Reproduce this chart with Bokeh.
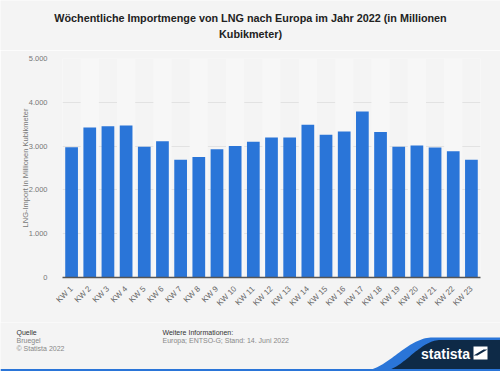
import numpy as np
from bokeh.plotting import figure
from bokeh.layouts import column, row
from bokeh.models import Range1d, FixedTicker, CustomJSTickFormatter, ColumnDataSource
from bokeh.core.properties import value
from bokeh.embed import file_html
from bokeh.resources import INLINE

# ---- data ----
weeks = ["KW 1", "KW 2", "KW 3", "KW 4", "KW 5", "KW 6", "KW 7", "KW 8", "KW 9", "KW 10",
         "KW 11", "KW 12", "KW 13", "KW 14", "KW 15", "KW 16", "KW 17", "KW 18", "KW 19",
         "KW 20", "KW 21", "KW 22", "KW 23"]
imports = [2975, 3425, 3455, 3470, 2985, 3110, 2690, 2750, 2930, 3005,
           3100, 3195, 3195, 3485, 3260, 3335, 3790, 3320, 2985,
           3015, 2970, 2880, 2690]
y_ticks = [0, 1000, 2000, 3000, 4000, 5000]

title_lines = ["Wöchentliche Importmenge von LNG nach Europa im Jahr 2022 (in Millionen",
               "Kubikmeter)"]
y_label = "LNG-Import in Millionen Kubikmeter"

BG = "#f4f4f4"
BAND = "#f7f7f7"
BLUE = "#2a75d8"
NAVY = "#0e2a47"
FONT = "Liberation Sans"
W = 500


def blank(height, y0, y1):
    f = figure(width=W, height=height, x_range=Range1d(0, 500), y_range=Range1d(y1, y0),
               output_backend="svg", toolbar_location=None, min_border=0,
               min_border_left=0, min_border_right=0, min_border_top=0, min_border_bottom=0,
               x_axis_location=None, y_axis_location=None)
    f.grid.visible = False
    f.outline_line_color = None
    f.background_fill_color = BG
    f.border_fill_color = BG
    return f


# ---- title figure (page coordinates) ----
tf = blank(50, 0, 50)
tf.text(x=[250, 250], y=[17, 33], text=title_lines, text_font=value(FONT),
        text_font_style="bold", text_font_size="10.8px", text_color="#222222",
        text_align="center", text_baseline="middle")

# ---- main chart ----
p = figure(width=W, height=272, x_range=weeks, y_range=Range1d(0, 5000),
           output_backend="svg", toolbar_location=None,
           min_border_left=62, min_border_right=20, min_border_top=8, min_border_bottom=45)
p.background_fill_color = BG
p.border_fill_color = BG
p.outline_line_color = None

band_src = ColumnDataSource(dict(x=weeks[1::2], top=[5000] * len(weeks[1::2])))
p.vbar(x="x", top="top", width=1.0, source=band_src, fill_color=BAND, line_color=None)

src = ColumnDataSource(dict(x=weeks, top=imports))
p.vbar(x="x", top="top", width=0.7, source=src, fill_color=BLUE, line_color=None)

p.xgrid.visible = False
p.ygrid.grid_line_color = "#e2e2e2"
p.ygrid.grid_line_width = 1
p.yaxis.ticker = FixedTicker(ticks=y_ticks)
p.yaxis.formatter = CustomJSTickFormatter(
    code="return tick.toFixed(0).replace(/\\B(?=(\\d{3})+(?!\\d))/g, '.');")
p.yaxis.axis_line_color = None
p.yaxis.major_tick_line_color = None
p.yaxis.minor_tick_line_color = None
p.yaxis.major_label_text_font = FONT
p.yaxis.major_label_text_font_size = "7.5px"
p.yaxis.major_label_text_color = "#777777"
p.yaxis.major_label_standoff = 9
p.yaxis.axis_label = y_label
p.yaxis.axis_label_text_font = FONT
p.yaxis.axis_label_text_font_size = "7.5px"
p.yaxis.axis_label_text_font_style = "normal"
p.yaxis.axis_label_text_color = "#777777"
p.yaxis.axis_label_standoff = -4

p.xaxis.axis_line_color = "#555555"
p.xaxis.axis_line_width = 1.5
p.xaxis.major_tick_line_color = None
p.xaxis.minor_tick_line_color = None
p.xaxis.major_label_orientation = np.pi / 4
p.xaxis.major_label_text_font = FONT
p.xaxis.major_label_text_font_size = "8px"
p.xaxis.major_label_text_color = "#666666"
p.xaxis.major_label_standoff = 4

# ---- footer (page coordinates) ----
ff = blank(49, 322, 371)
ff.text(x=[16, 162], y=[332, 332], text=["Quelle", "Weitere Informationen:"],
        text_font=value(FONT), text_font_size="7px", text_color="#333333",
        text_baseline="middle")
ff.text(x=[16, 16, 162], y=[340, 348, 340],
        text=["Bruegel", "© Statista 2022", "Europa; ENTSO-G; Stand: 14. Juni 2022"],
        text_font=value(FONT), text_font_size="7px", text_color="#888888",
        text_baseline="middle")

t = np.linspace(0, 1, 40)


def curve(x0, y0, x1, y1):
    s = 0.5 - 0.5 * np.cos(np.pi * t)
    return list(x0 + (x1 - x0) * t), list(y0 + (y1 - y0) * s)


bx, by = curve(360, 371, 432, 337)
ff.patch(x=bx + [500, 500], y=by + [337, 371], fill_color=BLUE, line_color=None)
nx, ny = curve(380, 371, 440, 339.5)
ff.patch(x=nx + [500, 500], y=ny + [339.5, 371], fill_color=NAVY, line_color=None)
ff.patch(x=[0, 500, 500, 0], y=[368.5, 368.5, 371, 371], fill_color=BLUE, line_color=None)
ff.text(x=[445], y=[353], text=["statista"], text_font=value(FONT), text_font_style="bold",
        text_font_size="14px", text_color="white", text_align="center", text_baseline="middle")
ff.patch(x=[473, 487, 487, 473], y=[359, 359, 346, 346], fill_color="white", line_color=None)
ff.patch(x=[473, 477, 487, 483], y=[355, 355, 349, 349], fill_color=NAVY, line_color=None)

layout = column(row(tf), p, row(ff), spacing=0)
open("out.html", "w").write(file_html(layout, INLINE))
